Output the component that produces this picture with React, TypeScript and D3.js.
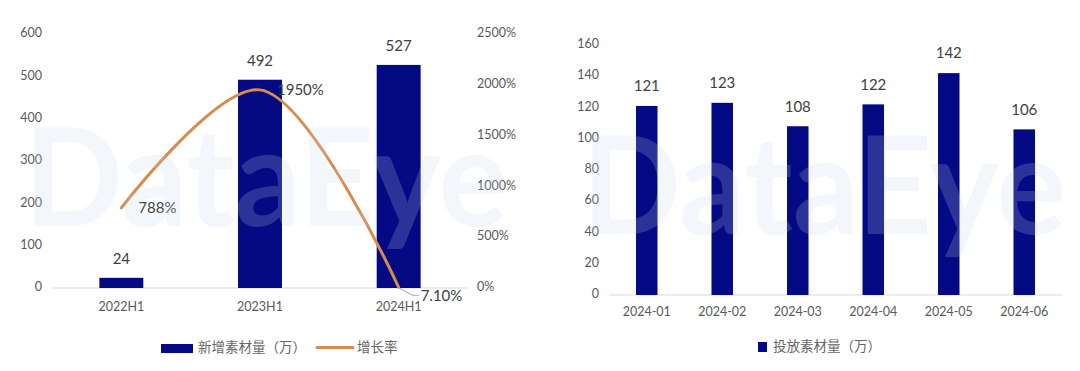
import React, { useEffect, useRef } from 'react';
import * as d3 from 'd3';

const halfYears = ['2022H1', '2023H1', '2024H1'];
const newMaterial = [24, 492, 527];
const growthRate = [788, 1950, 7.1];
const growthLabels = ['788%', '1950%', '7.10%'];
const leftTicks = [0, 100, 200, 300, 400, 500, 600];
const rateTicks = [0, 500, 1000, 1500, 2000, 2500];

const months = ['2024-01', '2024-02', '2024-03', '2024-04', '2024-05', '2024-06'];
const monthlyMaterial = [121, 123, 108, 122, 142, 106];
const monthTicks = [0, 20, 40, 60, 80, 100, 120, 140, 160];

const BAR = '#040a84';
const LINE = '#d68b4f';
const TICK = '#595959';
const VALUE = '#404040';
const AXIS = '#d9d9d9';
const FONT = 'Lato, "Open Sans", sans-serif';
const CJK = '"Noto Sans CJK SC", sans-serif';

const App: React.FC = () => {
  const svgRef = useRef<SVGSVGElement>(null);

  useEffect(() => {
    if (!svgRef.current) return;
    const svg = d3.select(svgRef.current);
    svg.selectAll('*').remove();

    // ---------- left chart: new material + growth rate ----------
    const lx = d3.scaleBand<string>().domain(halfYears).range([52, 468]).paddingInner(0.683).paddingOuter(0.3415);
    const ly = d3.scaleLinear().domain([0, 600]).range([288, 34]);
    const ry = d3.scaleLinear().domain([0, 2500]).range([288, 34]);
    const left = svg.append('g');

    left.selectAll('text.ltick').data(leftTicks).enter().append('text')
      .attr('x', 42).attr('y', d => ly(d)).attr('text-anchor', 'end').attr('dominant-baseline', 'middle')
      .attr('font-family', FONT).attr('font-size', 12.5).attr('fill', TICK).text(d => d);

    left.selectAll('text.rtick').data(rateTicks).enter().append('text')
      .attr('x', 477).attr('y', d => ry(d)).attr('dominant-baseline', 'middle')
      .attr('font-family', FONT).attr('font-size', 12.5).attr('fill', TICK).text(d => d + '%');

    left.append('line').attr('x1', 52).attr('x2', 468).attr('y1', ly(0)).attr('y2', ly(0))
      .attr('stroke', AXIS).attr('stroke-width', 1);

    left.selectAll('rect').data(newMaterial).enter().append('rect')
      .attr('x', (d, i) => lx(halfYears[i])!).attr('width', lx.bandwidth())
      .attr('y', d => ly(d)).attr('height', d => ly(0) - ly(d)).attr('fill', BAR);

    left.selectAll('text.val').data(newMaterial).enter().append('text')
      .attr('x', (d, i) => lx(halfYears[i])! + lx.bandwidth() / 2).attr('y', d => ly(d) - 18)
      .attr('text-anchor', 'middle').attr('dominant-baseline', 'middle')
      .attr('font-family', FONT).attr('font-size', 15).attr('fill', VALUE).text(d => d);

    left.selectAll('text.cat').data(halfYears).enter().append('text')
      .attr('x', d => lx(d)! + lx.bandwidth() / 2).attr('y', 308)
      .attr('text-anchor', 'middle').attr('dominant-baseline', 'middle')
      .attr('font-family', FONT).attr('font-size', 12.5).attr('fill', TICK).text(d => d);

    const pts: [number, number][] = growthRate.map((d, i) => [lx(halfYears[i])! + lx.bandwidth() / 2, ry(d)]);

    // rate labels sit under the line, as in the original
    left.selectAll('text.rate').data(growthLabels.slice(0, 2)).enter().append('text')
      .attr('x', (d, i) => pts[i][0] + 17).attr('y', (d, i) => pts[i][1] + 1)
      .attr('dominant-baseline', 'middle')
      .attr('font-family', FONT).attr('font-size', 15).attr('fill', VALUE).text(d => d);

    const last = pts[2];
    left.append('polyline')
      .attr('points', `${last[0] + 1},${last[1] + 1} ${last[0] + 14},${last[1] + 8} ${last[0] + 20},${last[1] + 8}`)
      .attr('fill', 'none').attr('stroke', '#a6a6a6').attr('stroke-width', 1);
    left.append('text')
      .attr('x', last[0] + 22).attr('y', last[1] + 10).attr('dominant-baseline', 'middle')
      .attr('font-family', FONT).attr('font-size', 15).attr('fill', VALUE).text(growthLabels[2]);

    const line = d3.line().curve(d3.curveCatmullRom.alpha(0.5));
    left.append('path').attr('d', line(pts)!).attr('fill', 'none')
      .attr('stroke', LINE).attr('stroke-width', 3).attr('stroke-linecap', 'round');

    // ---------- right chart: monthly material ----------
    const mx = d3.scaleBand<string>().domain(months).range([609, 1062]).paddingInner(0.715).paddingOuter(0.3575);
    const my = d3.scaleLinear().domain([0, 160]).range([295, 45]);
    const right = svg.append('g');

    right.selectAll('text.tick').data(monthTicks).enter().append('text')
      .attr('x', 599).attr('y', d => my(d)).attr('text-anchor', 'end').attr('dominant-baseline', 'middle')
      .attr('font-family', FONT).attr('font-size', 12.5).attr('fill', TICK).text(d => d);

    right.append('line').attr('x1', 609).attr('x2', 1062).attr('y1', my(0)).attr('y2', my(0))
      .attr('stroke', AXIS).attr('stroke-width', 1);

    right.selectAll('rect').data(monthlyMaterial).enter().append('rect')
      .attr('x', (d, i) => mx(months[i])!).attr('width', mx.bandwidth())
      .attr('y', d => my(d)).attr('height', d => my(0) - my(d)).attr('fill', BAR);

    right.selectAll('text.val').data(monthlyMaterial).enter().append('text')
      .attr('x', (d, i) => mx(months[i])! + mx.bandwidth() / 2).attr('y', d => my(d) - 18.5)
      .attr('text-anchor', 'middle').attr('dominant-baseline', 'middle')
      .attr('font-family', FONT).attr('font-size', 15).attr('fill', VALUE).text(d => d);

    right.selectAll('text.cat').data(months).enter().append('text')
      .attr('x', d => mx(d)! + mx.bandwidth() / 2).attr('y', 313)
      .attr('text-anchor', 'middle').attr('dominant-baseline', 'middle')
      .attr('font-family', FONT).attr('font-size', 12.5).attr('fill', TICK).text(d => d);

    // ---------- watermarks ----------
    [[24, 226], [582, 234]].forEach(([x, y]) => {
      svg.append('text').attr('x', x).attr('y', y).attr('textLength', 484).attr('lengthAdjust', 'spacingAndGlyphs')
        .attr('font-family', FONT).attr('font-weight', 700).attr('font-size', 136)
        .attr('fill', '#c4d4ea').attr('opacity', 0.2)
        .text('DataEye');
    });

    // ---------- legends ----------
    const lg = svg.append('g').attr('font-family', CJK).attr('font-size', 13.5).attr('fill', '#666');
    lg.append('rect').attr('x', 161).attr('y', 344).attr('width', 32).attr('height', 9).attr('fill', BAR);
    lg.append('text').attr('x', 198).attr('y', 348.5).attr('dominant-baseline', 'middle').text('新增素材量（万）');
    lg.append('line').attr('x1', 317).attr('x2', 353).attr('y1', 347.5).attr('y2', 347.5)
      .attr('stroke', LINE).attr('stroke-width', 3).attr('stroke-linecap', 'round');
    lg.append('text').attr('x', 357).attr('y', 348.5).attr('dominant-baseline', 'middle').text('增长率');
    lg.append('rect').attr('x', 758).attr('y', 342).attr('width', 9).attr('height', 10).attr('fill', BAR);
    lg.append('text').attr('x', 773).attr('y', 347.5).attr('dominant-baseline', 'middle').text('投放素材量（万）');
  }, []);

  return (
    <svg ref={svgRef} width={1080} height={371}
      style={{ position: 'absolute', left: 0, top: 0, display: 'block', background: '#fff' }} />
  );
};

export default App;
